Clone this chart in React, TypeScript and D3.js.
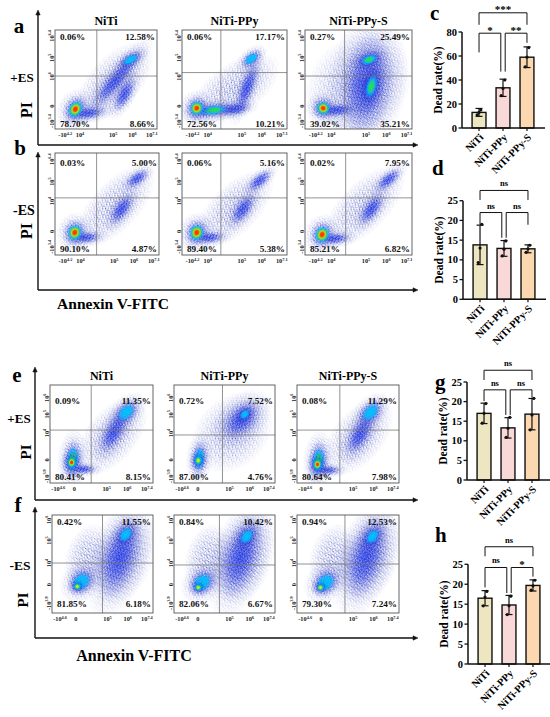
import React from "react";
import * as d3 from "d3";

const FONT = "'Liberation Serif', 'Times New Roman', serif";

// ---- bar chart data ----
const groups = ["NiTi", "NiTi-PPy", "NiTi-PPy-S"];
const barFills = ["#ede6c0", "#f9d9d7", "#fcd8b0"];

const cMean = [13, 33.5, 59];
const cSd = [3.3, 7.2, 8.6];
const cPoints = [[11, 13, 15], [27, 33, 40], [51, 59, 67]];
const cTicks = [0, 20, 40, 60, 80];
const cSig = [
  { a: 0, b: 1, at: 79, la: 63, lb: 47, text: "*" },
  { a: 1, b: 2, at: 79, la: 47, lb: 71, text: "**" },
  { a: 0, b: 2, at: 96, la: 86, lb: 86, text: "***" },
];

const dMean = [13.8, 12.9, 12.8];
const dSd = [5, 2, 1];
const dPoints = [[9.3, 13, 19], [11, 12.7, 14.8], [11.9, 12.8, 13.7]];
const smallTicks = [0, 5, 10, 15, 20, 25];
const dSig = [
  { a: 0, b: 1, at: 22, la: 18.9, lb: 15.6, text: "ns" },
  { a: 1, b: 2, at: 22, la: 15.6, lb: 18.9, text: "ns" },
  { a: 0, b: 2, at: 27.6, la: 25.2, lb: 25.2, text: "ns" },
];

const gMean = [17, 13.3, 16.8];
const gSd = [2.6, 2.6, 4];
const gPoints = [[14.5, 17, 19.5], [10.9, 13.2, 16], [12.8, 16.6, 20.8]];
const gSig = [
  { a: 0, b: 1, at: 23, la: 20.1, lb: 16.6, text: "ns" },
  { a: 1, b: 2, at: 23, la: 16.6, lb: 21, text: "ns" },
  { a: 0, b: 2, at: 28, la: 25.5, lb: 25.5, text: "ns" },
];

const hMean = [16.5, 14.8, 19.7];
const hSd = [1.9, 2.4, 1.4];
const hPoints = [[14.6, 16.8, 18.2], [12.4, 14.6, 17], [18.5, 19.6, 21]];
const hSig = [
  { a: 0, b: 1, at: 24.2, la: 19.2, lb: 17.8, text: "ns" },
  { a: 1, b: 2, at: 24.2, la: 17.8, lb: 21.9, text: "*" },
  { a: 0, b: 2, at: 29.4, la: 27, lb: 27, text: "ns" },
];

// ---- flow cytometry data ----
const pctA = [["0.06%", "12.58%", "78.70%", "8.66%"], ["0.06%", "17.17%", "72.56%", "10.21%"], ["0.27%", "25.49%", "39.02%", "35.21%"]];
const pctB = [["0.03%", "5.00%", "90.10%", "4.87%"], ["0.06%", "5.16%", "89.40%", "5.38%"], ["0.02%", "7.95%", "85.21%", "6.82%"]];
const pctE = [["0.09%", "11.35%", "80.41%", "8.15%"], ["0.72%", "7.52%", "87.00%", "4.76%"], ["0.08%", "11.29%", "80.64%", "7.98%"]];
const pctF = [["0.42%", "11.55%", "81.85%", "6.18%"], ["0.84%", "10.42%", "82.06%", "6.67%"], ["0.94%", "12.53%", "79.30%", "7.24%"]];

// quadrant gates, in axis fraction (x, y)
const gateA = [[0.41, 0.535], [0.37, 0.57], [0.37, 0.535]];
const gateB = [[0.4, 0.56], [0.37, 0.56], [0.38, 0.56]];
const gateE = [[0.4, 0.54], [0.48, 0.49], [0.42, 0.54]];
const gateF = [[0.5, 0.51], [0.45, 0.49], [0.47, 0.5]];

// axis tick labels and their channel position
const xTickTop = ["-10^4.2", "10^4", "10^5", "10^6", "10^7.1"];
const xTickTopAt = [0.1, 0.245, 0.57, 0.76, 0.95];
const yTickTop = ["10^6.4", "10^5", "10^4", "0", "-10^3.4"];
const yTickTopAt = [0.94, 0.72, 0.53, 0.23, 0.08];
const xTickBot = ["-10^4.6", "0", "10^5", "10^6", "10^7.4"];
const xTickBotAt = [0.08, 0.235, 0.55, 0.75, 0.94];
const yTickE = ["10^6", "10^5", "10^4", "0", "-10^3.9"];
const yTickEAt = [0.87, 0.7, 0.51, 0.235, 0.07];
const yTickFAt = [0.95, 0.74, 0.51, 0.29, 0.1];

// cell populations: [x, y, spread along axis, spread across, angle, density peak 1..6]
const popsA = [
  [[0.58, 0.47, 0.42, 0.22, 47, 1], [0.6, 0.5, 0.28, 0.07, 50, 2], [0.68, 0.35, 0.14, 0.06, 62, 2], [0.33, 0.16, 0.13, 0.05, 8, 2], [0.74, 0.7, 0.1, 0.05, 30, 3], [0.2, 0.2, 0.11, 0.09, 60, 6]],
  [[0.5, 0.4, 0.42, 0.22, 35, 1], [0.62, 0.42, 0.2, 0.06, 70, 2], [0.5, 0.2, 0.12, 0.05, 10, 2], [0.3, 0.19, 0.16, 0.06, 8, 4], [0.66, 0.71, 0.09, 0.055, 40, 3], [0.14, 0.21, 0.09, 0.09, 60, 6]],
  [[0.5, 0.45, 0.45, 0.4, 40, 1], [0.58, 0.45, 0.36, 0.2, 82, 2], [0.6, 0.7, 0.1, 0.06, 20, 4], [0.62, 0.43, 0.14, 0.07, 75, 4], [0.3, 0.19, 0.12, 0.05, 5, 2], [0.17, 0.21, 0.08, 0.09, 70, 6]],
];
const popsB = [
  [[0.58, 0.48, 0.42, 0.2, 47, 1], [0.64, 0.45, 0.13, 0.06, 55, 2], [0.79, 0.75, 0.1, 0.05, 35, 2], [0.3, 0.17, 0.11, 0.045, 5, 2], [0.19, 0.22, 0.1, 0.09, 70, 6]],
  [[0.5, 0.45, 0.4, 0.2, 45, 1], [0.58, 0.45, 0.13, 0.06, 55, 2], [0.74, 0.73, 0.11, 0.05, 40, 2], [0.26, 0.17, 0.11, 0.045, 5, 2], [0.14, 0.22, 0.1, 0.09, 70, 6]],
  [[0.55, 0.47, 0.42, 0.2, 45, 1], [0.62, 0.45, 0.13, 0.06, 55, 2], [0.78, 0.74, 0.11, 0.05, 40, 2], [0.28, 0.16, 0.11, 0.045, 5, 2], [0.16, 0.2, 0.1, 0.09, 70, 6]],
];
const popsE = [
  [[0.6, 0.48, 0.38, 0.22, 50, 1], [0.62, 0.52, 0.17, 0.08, 60, 2], [0.32, 0.14, 0.1, 0.04, 0, 2], [0.74, 0.72, 0.12, 0.08, 45, 3], [0.22, 0.24, 0.15, 0.08, 85, 4], [0.21, 0.21, 0.07, 0.06, 85, 6]],
  [[0.58, 0.52, 0.38, 0.3, 45, 1], [0.67, 0.65, 0.18, 0.12, 45, 2], [0.7, 0.7, 0.07, 0.05, 45, 3], [0.25, 0.25, 0.13, 0.07, 85, 3], [0.24, 0.23, 0.06, 0.05, 85, 5]],
  [[0.6, 0.47, 0.38, 0.22, 50, 1], [0.62, 0.5, 0.17, 0.08, 60, 2], [0.3, 0.13, 0.1, 0.04, 0, 2], [0.72, 0.72, 0.12, 0.08, 45, 3], [0.21, 0.23, 0.15, 0.08, 85, 4], [0.2, 0.19, 0.07, 0.06, 85, 6]],
];
const popsF = [
  [[0.36, 0.55, 0.3, 0.2, 75, 1], [0.7, 0.56, 0.4, 0.26, 70, 1], [0.67, 0.57, 0.32, 0.15, 72, 2], [0.73, 0.8, 0.1, 0.07, 50, 3], [0.29, 0.32, 0.12, 0.1, 45, 3], [0.25, 0.27, 0.05, 0.045, 0, 5]],
  [[0.34, 0.55, 0.3, 0.2, 75, 1], [0.68, 0.56, 0.4, 0.26, 70, 1], [0.66, 0.57, 0.32, 0.15, 72, 2], [0.72, 0.78, 0.1, 0.07, 50, 3], [0.28, 0.31, 0.12, 0.1, 45, 3], [0.24, 0.26, 0.05, 0.045, 0, 5]],
  [[0.35, 0.55, 0.3, 0.2, 75, 1], [0.7, 0.56, 0.4, 0.26, 70, 1], [0.68, 0.57, 0.32, 0.15, 72, 2], [0.74, 0.78, 0.1, 0.07, 50, 3], [0.28, 0.31, 0.12, 0.1, 45, 3], [0.23, 0.26, 0.05, 0.045, 0, 5]],
];

// ---- layout ----
const rowA = { xs: [55, 182, 305], ws: [102, 105, 107], y: 30, h: 99, top: 10, bot: 2 };
const rowB = { xs: [55, 182, 305], ws: [104, 105, 107], y: 153, h: 102, top: 13, bot: 3 };
const rowE = { xs: [50, 174, 297], ws: [103, 101, 102], y: 385, h: 98, top: 19, bot: 3 };
const rowF = { xs: [52, 174, 297], ws: [101, 101, 102], y: 515, h: 98, top: 10, bot: 6 };

const levelColors = ["", "", "#2840f0", "#00c8ff", "#2fdc48", "#f5e800", "#ff2200"];

const Pow = ({ s, big, small }) => {
  const [base, exp] = s.split("^");
  if (!exp) return <tspan fontSize={big}>{base}</tspan>;
  return (
    <>
      <tspan fontSize={big}>{base}</tspan>
      <tspan fontSize={small} dy={-2.5}>{exp}</tspan>
    </>
  );
};

const FlowPlot = ({ id, x, y, w, h, gate, pct, pops, xt, xtAt, yt, ytAt, row, title }) => {
  const sx = d3.scaleLinear().domain([0, 1]).range([x, x + w]);
  const sy = d3.scaleLinear().domain([0, 1]).range([y + h, y]);
  return (
    <g fontFamily={FONT} fontWeight="bold">
      <clipPath id={`clip${id}`}>
        <rect x={x} y={y} width={w} height={h} />
      </clipPath>
      <rect x={x} y={y} width={w} height={h} fill="#fff" />
      <g clipPath={`url(#clip${id})`}>
        {pops.map(([u, v, ru, rv, ang, peak], i) => {
          const rx = ru * w;
          const ry = rv * h;
          const ks = peak === 1 ? 1.2 : 2;
          return (
            <g key={i} transform={`translate(${sx(u)},${sy(v)}) rotate(${-ang})`}>
              <rect x={-rx * ks} y={-ry * ks} width={2 * rx * ks} height={2 * ry * ks} fill="url(#dotsS)" mask="url(#fade)" />
              {peak > 1 && (
                <rect x={-rx * 1.35} y={-ry * 1.35} width={2.7 * rx} height={2.7 * ry} fill="url(#dotsD)" mask="url(#fade)" />
              )}
              {peak > 1 && <ellipse rx={rx * 0.9} ry={ry * 0.9} fill="url(#lv2)" />}
              {d3.range(3, peak + 1).map((lv) => {
                const f = 0.85 * (1 - (lv - 3) / Math.max(1, peak - 2) * 0.78);
                return <ellipse key={lv} rx={rx * f} ry={ry * f} fill={`url(#lv${lv})`} />;
              })}
            </g>
          );
        })}
      </g>
      <line x1={sx(gate[0])} x2={sx(gate[0])} y1={y} y2={y + h} stroke="#777" strokeWidth={0.8} />
      <line x1={x} x2={x + w} y1={sy(gate[1])} y2={sy(gate[1])} stroke="#777" strokeWidth={0.8} />
      <rect x={x} y={y} width={w} height={h} fill="none" stroke="#555" strokeWidth={0.9} />
      {title && (
        <text x={x + w / 2} y={y - 5} textAnchor="middle" fontSize={12}>{title}</text>
      )}
      <g fontSize={9.2} fill="#111">
        <text x={x + 5} y={y + row.top}>{pct[0]}</text>
        <text x={x + w - 2} y={y + row.top} textAnchor="end">{pct[1]}</text>
        <text x={x + 5} y={y + h - row.bot}>{pct[2]}</text>
        <text x={x + w - 2} y={y + h - row.bot} textAnchor="end">{pct[3]}</text>
      </g>
      <g fill="#222">
        {xt.map((s, i) => (
          <text key={i} x={sx(xtAt[i])} y={y + h + 8} textAnchor="middle">
            <Pow s={s} big={6.3} small={4.3} />
          </text>
        ))}
        {yt.map((s, i) => (
          <text key={i} transform={`translate(${x - 1.5},${sy(ytAt[i])}) rotate(-90)`} textAnchor="middle">
            <Pow s={s} big={6.3} small={4.3} />
          </text>
        ))}
      </g>
    </g>
  );
};

const FlowRow = ({ tag, row, gates, pcts, pops, xt, xtAt, yt, ytAt, titles }) => (
  <g>
    {row.xs.map((x, i) => (
      <FlowPlot
        key={i}
        id={`${tag}${i}`}
        x={x}
        y={row.y}
        w={row.ws[i]}
        h={row.h}
        gate={gates[i]}
        pct={pcts[i]}
        pops={pops[i]}
        xt={xt}
        xtAt={xtAt}
        yt={yt}
        ytAt={ytAt}
        row={row}
        title={titles ? titles[i] : null}
      />
    ))}
  </g>
);

const Frame = ({ x, y1, y2, x2 }) => (
  <g stroke="#111" strokeWidth={1.4} fill="#111">
    <line x1={x} x2={x} y1={y1 + 3} y2={y2} />
    <line x1={x} x2={x2 - 3} y1={y2} y2={y2} />
    <path d={`M${x - 2.2},${y1 + 5}L${x},${y1}L${x + 2.2},${y1 + 5}Z`} strokeWidth={0.5} />
    <path d={`M${x2 - 5},${y2 - 2.2}L${x2},${y2}L${x2 - 5},${y2 + 2.2}Z`} strokeWidth={0.5} />
  </g>
);

const BarPanel = ({ ax, y0, yTop, max, ticks, mean, sd, pts, sig, letter, lx, ly }) => {
  const y = d3.scaleLinear().domain([0, max]).range([y0, yTop]);
  const x = d3.scaleBand().domain(groups).range([ax, ax + 82]).paddingInner(0.42).paddingOuter(0.42);
  const bw = x.bandwidth();
  const cx = (i) => x(groups[i]) + bw / 2;
  const end = (i, other) => cx(i) + (i === 1 ? (other > i ? 2.2 : -2.2) : 0);
  return (
    <g fontFamily={FONT} fontWeight="bold">
      <text x={lx} y={ly} fontSize={21}>{letter}</text>
      <text transform={`translate(${ax - 20},${(y0 + yTop) / 2}) rotate(-90)`} textAnchor="middle" fontSize={11.5}>
        Dead rate(%)
      </text>
      {groups.map((g, i) => (
        <g key={g}>
          <rect x={x(g)} y={y(mean[i])} width={bw} height={y0 - y(mean[i])} fill={barFills[i]} stroke="#111" strokeWidth={1.4} />
          <g stroke="#111" strokeWidth={1.2}>
            <line x1={cx(i)} x2={cx(i)} y1={y(mean[i] - sd[i])} y2={y(mean[i] + sd[i])} />
            <line x1={cx(i) - 3.5} x2={cx(i) + 3.5} y1={y(mean[i] + sd[i])} y2={y(mean[i] + sd[i])} />
            <line x1={cx(i) - 3.5} x2={cx(i) + 3.5} y1={y(mean[i] - sd[i])} y2={y(mean[i] - sd[i])} />
          </g>
          {pts[i].map((p, j) => (
            <circle key={j} cx={cx(i) + (j - 1) * 1.8} cy={y(p)} r={1.6} fill="#111" />
          ))}
          <line x1={cx(i)} x2={cx(i)} y1={y0} y2={y0 + 3} stroke="#111" strokeWidth={1.2} />
          <text transform={`translate(${cx(i) + 5},${y0 + 10}) rotate(-45)`} textAnchor="end" fontSize={10.5}>{g}</text>
        </g>
      ))}
      <line x1={ax} x2={ax} y1={yTop} y2={y0} stroke="#111" strokeWidth={1.5} />
      <line x1={ax} x2={ax + 83} y1={y0} y2={y0} stroke="#111" strokeWidth={1.5} />
      {ticks.map((t) => (
        <g key={t}>
          <line x1={ax - 3.5} x2={ax} y1={y(t)} y2={y(t)} stroke="#111" strokeWidth={1.3} />
          <text x={ax - 5} y={y(t) + 3.5} textAnchor="end" fontSize={10.5}>{t}</text>
        </g>
      ))}
      {sig.map((s, i) => {
        const xa = end(s.a, s.b);
        const xb = end(s.b, s.a);
        return (
          <g key={i}>
            <path d={`M${xa},${y(s.la)}V${y(s.at)}H${xb}V${y(s.lb)}`} fill="none" stroke="#111" strokeWidth={1} />
            <text x={(xa + xb) / 2} y={s.text === "ns" ? y(s.at) - 4 : y(s.at) + 0.5} textAnchor="middle" fontSize={s.text === "ns" ? 8.5 : 11}>
              {s.text}
            </text>
          </g>
        );
      })}
    </g>
  );
};

const Label = ({ x, y, text, size, rotate }) => (
  <text
    transform={rotate ? `translate(${x},${y}) rotate(-90)` : undefined}
    x={rotate ? 0 : x}
    y={rotate ? 0 : y}
    textAnchor="middle"
    fontFamily={FONT}
    fontWeight="bold"
    fontSize={size}
  >
    {text}
  </text>
);

export default function App() {
  return (
    <>
      <style>{`body{margin:0}`}</style>
      <svg width={550} height={717} style={{ display: "block", background: "#fff" }}>
        <defs>
          <pattern id="dotsS" width={6} height={6} patternUnits="userSpaceOnUse">
            {[[0.8, 1.2], [3.5, 0.6], [5.2, 2.8], [2.1, 3.4], [4.3, 4.9], [0.9, 5.1], [2.9, 1.9], [5.4, 0.3], [1.6, 4.5], [3.8, 3.3]].map(([a, b], i) => (
              <circle key={i} cx={a} cy={b} r={0.55} fill={i % 4 === 3 ? "#6870c0" : "#1d2cb8"} />
            ))}
          </pattern>
          <pattern id="dotsD" width={3.2} height={3.2} patternUnits="userSpaceOnUse" patternTransform="rotate(17)">
            {[[0.5, 0.7], [2.1, 0.3], [1.3, 1.9], [2.8, 2.5], [0.3, 2.8]].map(([a, b], i) => (
              <circle key={i} cx={a} cy={b} r={0.6} fill="#1526d8" />
            ))}
          </pattern>
          <radialGradient id="fadeGrad">
            <stop offset="0" stopColor="#fff" stopOpacity={1} />
            <stop offset="0.5" stopColor="#fff" stopOpacity={0.65} />
            <stop offset="1" stopColor="#fff" stopOpacity={0} />
          </radialGradient>
          <mask id="fade" maskUnits="objectBoundingBox" maskContentUnits="objectBoundingBox" x={0} y={0} width={1} height={1}>
            <rect width={1} height={1} fill="url(#fadeGrad)" />
          </mask>
          {d3.range(2, 7).map((lv) => (
            <radialGradient key={lv} id={`lv${lv}`}>
              <stop offset="0" stopColor={levelColors[lv]} stopOpacity={lv === 2 ? 0.55 : 0.95} />
              <stop offset="0.55" stopColor={levelColors[lv]} stopOpacity={lv === 2 ? 0.3 : 0.8} />
              <stop offset="1" stopColor={levelColors[lv]} stopOpacity={0} />
            </radialGradient>
          ))}
        </defs>

        {/* top block: a / b */}
        <Frame x={38} y1={10} y2={145} x2={418} />
        <Frame x={38} y1={152} y2={290} x2={418} />
        <FlowRow tag="a" row={rowA} gates={gateA} pcts={pctA} pops={popsA} xt={xTickTop} xtAt={xTickTopAt} yt={yTickTop} ytAt={yTickTopAt} titles={groups} />
        <FlowRow tag="b" row={rowB} gates={gateB} pcts={pctB} pops={popsB} xt={xTickTop} xtAt={xTickTopAt} yt={yTickTop} ytAt={yTickTopAt} />
        <Label x={19} y={33} text="a" size={21} />
        <Label x={20} y={155} text="b" size={21} />
        <Label x={22} y={82} text="+ES" size={13} />
        <Label x={31.5} y={110} text="PI" size={16} rotate />
        <Label x={24} y={215} text="-ES" size={14} />
        <Label x={32} y={231} text="PI" size={16} rotate />
        <Label x={113} y={309} text="Annexin V-FITC" size={15.5} />

        {/* bottom block: e / f */}
        <Frame x={35} y1={367} y2={500} x2={418} />
        <Frame x={35} y1={507} y2={638} x2={418} />
        <FlowRow tag="e" row={rowE} gates={gateE} pcts={pctE} pops={popsE} xt={xTickBot} xtAt={xTickBotAt} yt={yTickE} ytAt={yTickEAt} titles={groups} />
        <FlowRow tag="f" row={rowF} gates={gateF} pcts={pctF} pops={popsF} xt={xTickBot} xtAt={xTickBotAt} yt={yTickE} ytAt={yTickFAt} />
        <Label x={17} y={382} text="e" size={21} />
        <Label x={18} y={512} text="f" size={21} />
        <Label x={19} y={423} text="+ES" size={13} />
        <Label x={31} y={452} text="PI" size={15} rotate />
        <Label x={20} y={570} text="-ES" size={13.5} />
        <Label x={28} y={600} text="PI" size={15} rotate />
        <Label x={134} y={661} text="Annexin V-FITC" size={16} />

        {/* bar charts */}
        <BarPanel ax={462} y0={128} yTop={32} max={80} ticks={cTicks} mean={cMean} sd={cSd} pts={cPoints} sig={cSig} letter="c" lx={430} ly={20} />
        <BarPanel ax={463} y0={299.3} yTop={200.7} max={25} ticks={smallTicks} mean={dMean} sd={dSd} pts={dPoints} sig={dSig} letter="d" lx={432} ly={175} />
        <BarPanel ax={467} y0={480} yTop={382} max={25} ticks={smallTicks} mean={gMean} sd={gSd} pts={gPoints} sig={gSig} letter="g" lx={435} ly={389} />
        <BarPanel ax={468} y0={664} yTop={564.3} max={25} ticks={smallTicks} mean={hMean} sd={hSd} pts={hPoints} sig={hSig} letter="h" lx={435} ly={542} />
      </svg>
    </>
  );
}
